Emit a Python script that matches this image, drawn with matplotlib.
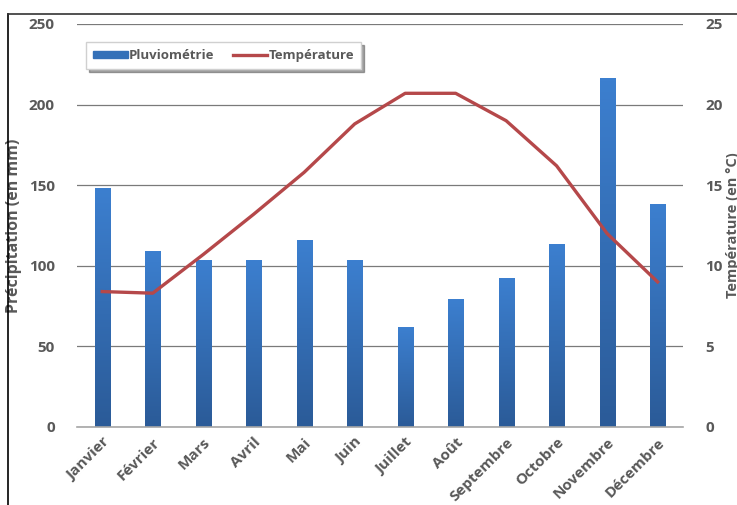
import numpy as np
import matplotlib
matplotlib.use('Agg')
import matplotlib.pyplot as plt
from matplotlib.colors import LinearSegmentedColormap
from matplotlib.lines import Line2D

mois = ['Janvier', 'Février', 'Mars', 'Avril', 'Mai', 'Juin', 'Juillet', 'Août',
        'Septembre', 'Octobre', 'Novembre', 'Décembre']
pluie = [148, 109, 103, 103, 116, 103, 62, 79, 92, 113, 216, 138]
temperature = [8.4, 8.3, 10.7, 13.2, 15.8, 18.8, 20.7, 20.7, 19.0, 16.2, 12.0, 9.0]

gris = '#595959'
plt.rcParams['font.family'] = ['Open Sans', 'DejaVu Sans']
plt.rcParams['font.weight'] = 'bold'

fig = plt.figure(figsize=(7.37, 5.05), dpi=100)
ax = fig.add_axes([0.1045, 0.1545, 0.822, 0.798])
x = np.arange(len(mois))

bars = ax.bar(x, pluie, width=0.3, color='none', zorder=2)
# degrade bleu sur chaque barre
degrade = LinearSegmentedColormap.from_list('bleu', ['#2b5b98', '#3c7fcf'])
grad = np.linspace(0, 1, 100).reshape(-1, 1)
for b in bars:
    x0 = b.get_x()
    ax.imshow(grad, extent=[x0, x0 + b.get_width(), 0, b.get_height()],
              origin='lower', cmap=degrade, aspect='auto', zorder=2)

ax.set_xlim(-0.5, len(mois) - 0.5)
ax.set_ylim(0, 250)
ax.set_yticks([0, 50, 100, 150, 200, 250])
ax.yaxis.grid(True, color='#7a7a7a', linewidth=0.9)
ax.set_axisbelow(True)
for s in ['top', 'left', 'right']:
    ax.spines[s].set_visible(False)
ax.spines['bottom'].set_color('#a6a6a6')
ax.spines['bottom'].set_linewidth(1.2)
ax.tick_params(axis='both', length=0, colors=gris, labelsize=11)
ax.tick_params(axis='y', pad=16)
ax.tick_params(axis='x', pad=6)
ax.set_xticks(x)
ax.set_xticklabels(mois, rotation=45, ha='right', rotation_mode='anchor', fontsize=11, color=gris)
ax.set_ylabel('Précipitation (en mm)', color=gris, fontsize=11.5, fontweight='bold')
ax.yaxis.set_label_coords(-0.091, 0.5)

ax2 = ax.twinx()
ax2.plot(x, temperature, color='#b5484a', linewidth=2.4, zorder=3)
ax2.set_ylim(0, 25)
ax2.set_yticks([0, 5, 10, 15, 20, 25])
for s in ax2.spines.values():
    s.set_visible(False)
ax2.tick_params(axis='y', length=0, colors=gris, labelsize=11, pad=16)
ax2.set_ylabel('Température (en °C)', color=gris, fontsize=10.5, fontweight='bold')
ax2.yaxis.set_label_coords(1.072, 0.5)

handles = [plt.Rectangle((0, 0), 1, 1, color='#3470b8'),
           Line2D([0], [0], color='#b5484a', linewidth=2.4)]
leg = ax.legend(handles, ['Pluviométrie', 'Température'], loc='upper left',
                bbox_to_anchor=(0.004, 0.972), ncol=2, frameon=True, shadow=True,
                fancybox=False, fontsize=9.5, handlelength=2.6, handleheight=0.35,
                handletextpad=0.1, columnspacing=1.4, borderpad=0.55)
leg.get_frame().set_edgecolor('#d0d0d0')
for t in leg.get_texts():
    t.set_color(gris)

# cadre du graphique (coupe a droite et en bas)
fig.add_artist(Line2D([8 / 737, 8 / 737], [0, 1 - 14 / 505], color='black', linewidth=1.2))
fig.add_artist(Line2D([8 / 737, 1], [1 - 14 / 505, 1 - 14 / 505], color='#333333', linewidth=1.2))

fig.savefig('out.png', dpi=100)
